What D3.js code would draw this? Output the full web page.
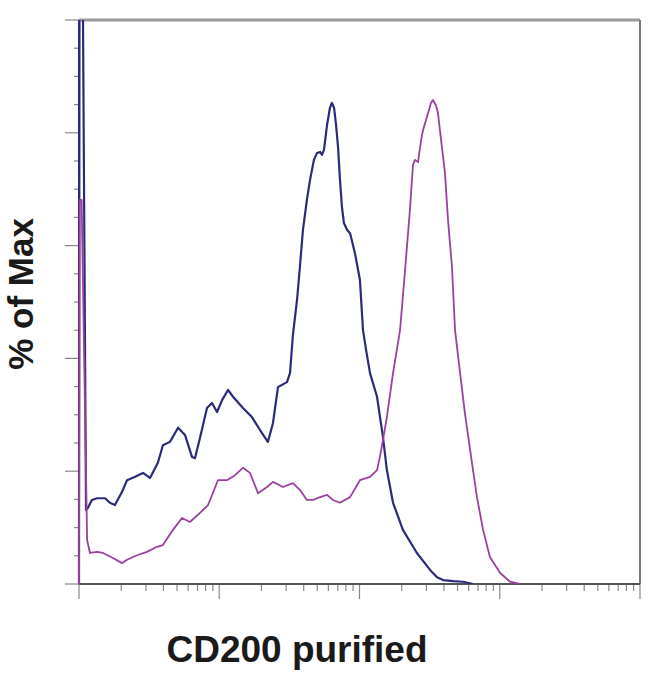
<!DOCTYPE html>
<html>
<head>
<meta charset="utf-8">
<script src="https://cdn.jsdelivr.net/npm/d3@7"></script>
<style>
  body { margin: 0; background: #fff; }
  text { font-family: "Liberation Sans", Arial, sans-serif; }
</style>
</head>
<body>
<div id="chart"></div>
<script>
// histogram bins (256 channels over 4 log decades) and % of max
var blueChannel = [0, 0.3, 1.2, 3.2, 4.1, 5.9, 8.2, 11.9, 14.1, 16.4, 19.6, 21.9, 25.6, 29.2, 32.4, 36.0, 38.3, 41.5,
    45.2, 48.4, 51.6, 52.9, 55.2, 58.4, 60.7, 63.0, 65.3, 68.0, 70.3, 74.8, 78.9, 82.6, 86.2, 88.5, 90.8, 94.9,
    96.3, 97.6, 99.5, 100.8, 102.2, 104.0, 105.4, 107.2, 108.6, 110.0, 110.9, 111.8, 113.2, 114.5, 115.4, 116.4,
    117.3, 118.2, 119.1, 120.0, 120.9, 122.3, 123.7, 125.9, 128.2, 129.6, 131.0, 132.8, 136.0, 138.7, 140.5,
    143.3, 147.8, 154.2, 160.2, 163.4, 166.1, 170.7, 175.2, 179.8]
var bluePct = [0, 140, 140, 13.1, 13.5, 14.9, 15.2, 15.2, 14.4, 14.0, 16.3, 18.4, 19.0, 19.7, 18.8, 21.5, 24.6, 25.2,
    27.7, 26.4, 22.5, 22.3, 25.9, 31.2, 32.1, 30.5, 32.6, 34.4, 33.2, 31.2, 29.6, 27.3, 25.2, 28.5, 34.9, 35.8,
    37.4, 44.1, 50.4, 56.2, 62.8, 68.1, 71.6, 75.2, 76.4, 76.6, 76.1, 77.0, 81.4, 84.4, 85.3, 84.4,
    81.4, 77.5, 71.6, 66.8, 64.0, 62.8, 62.2, 58.7, 53.9, 45.0, 41.5, 37.4, 33.2, 26.1, 20.2,
    14.4, 9.6, 5.5, 2.5, 1.2, 0.7, 0.5, 0.4, 0]

var purpleChannel = [0, 0.3, 1.2, 3.7, 5.0, 8.2, 11.0, 15.5, 19.6, 21.9, 26.5, 31.0, 35.6, 38.3, 42.9, 47.0, 50.6,
    55.2, 58.9, 63.4, 67.5, 71.2, 74.8, 78.0, 81.7, 85.8, 88.5, 93.1, 97.6, 100.8, 104.0, 106.8, 110.0, 113.2,
    115.9, 119.1, 123.7, 128.2, 132.8, 136.0, 137.3, 138.7, 140.5, 143.3, 146.5, 148.8, 151.0, 152.4, 153.3,
    154.7, 156.1, 157.0, 159.3, 160.6, 161.5, 162.9, 163.8, 165.6, 167.0, 168.4, 170.2, 171.6, 173.9, 176.1,
    179.3, 181.6, 184.4, 187.5, 192.1, 196.7, 201.2]
var purplePct = [0, 68.1, 68.1, 7.8, 5.5, 5.7, 5.5, 4.6, 3.7, 4.3, 5.1, 5.7, 6.6, 6.9, 9.6, 11.7, 11.0,
    12.6, 14.0, 18.4, 18.4, 19.3, 20.6, 19.7, 16.1, 17.2, 18.1, 17.2, 17.9, 16.7, 14.9, 14.9, 15.4, 15.8,
    14.9, 14.4, 15.4, 18.4, 19.0, 20.2, 22.5, 25.5, 29.6, 37.4, 45.0, 55.7, 66.3, 74.3, 75.2,
    74.8, 78.7, 80.5, 83.5, 85.3, 85.8, 84.9, 83.5, 77.5, 72.9, 64.5, 56.2, 45.0, 37.4, 30.3,
    21.5, 15.4, 9.6, 4.8, 2.0, 0.4, 0]

var xTitle = "CD200 purified"
var yTitle = "% of Max"

var W = 650, H = 684
var margin = { top: 20, right: 10, bottom: 100, left: 79 }
var width = 640 - margin.left, height = 584 - margin.top

var svg = d3.select("#chart").append("svg")
    .attr("width", W).attr("height", H)

var g = svg.append("g")
    .attr("transform", "translate(" + margin.left + "," + margin.top + ")")

var x = d3.scaleLinear().domain([0, 256]).range([0, width])
var xLog = d3.scaleLog().domain([10, 100000]).range([0, width])
var y = d3.scaleLinear().domain([0, 100]).range([height, 0])

g.append("clipPath").attr("id", "clip")
    .append("rect").attr("x", -3).attr("y", 0).attr("width", width + 3).attr("height", height)

// y ticks: minor every 5, major every 20
var yMinor = d3.range(0, 101, 5)
g.append("g").selectAll("line").data(yMinor).enter().append("line")
    .attr("x1", d => d % 20 == 0 ? -14 : -5).attr("x2", 0)
    .attr("y1", d => y(d)).attr("y2", d => y(d))
    .style("stroke", "#888").style("stroke-width", 1.2)

// x log ticks
var xTicks = xLog.ticks()
g.append("g").selectAll("line").data(xTicks).enter().append("line")
    .attr("x1", d => xLog(d)).attr("x2", d => xLog(d))
    .attr("y1", height)
    .attr("y2", d => Math.abs(Math.log10(d) % 1) < 1e-6 ? height + 15 : height + 7)
    .style("stroke", "#888").style("stroke-width", 1.2)

// frame
g.append("line").attr("x1", 0).attr("x2", width).attr("y1", 0).attr("y2", 0)
    .style("stroke", "#9a9a9a").style("stroke-width", 3)
g.append("line").attr("x1", width).attr("x2", width).attr("y1", 0).attr("y2", height)
    .style("stroke", "#7a7a7a").style("stroke-width", 2)
g.append("line").attr("x1", 0).attr("x2", width).attr("y1", height).attr("y2", height)
    .style("stroke", "#555").style("stroke-width", 2)
g.append("line").attr("x1", 0).attr("x2", 0).attr("y1", 0).attr("y2", height)
    .style("stroke", "#2b2b7c").style("stroke-width", 2)

var line = d3.line()
    .x(d => x(d[0]))
    .y(d => y(d[1]))

var blue = d3.zip(blueChannel, bluePct)
var purple = d3.zip(purpleChannel, purplePct)

var curves = g.append("g").attr("clip-path", "url(#clip)")
curves.append("path").datum(blue)
    .attr("d", line)
    .style("fill", "none").style("stroke", "#2b2b7c").style("stroke-width", 2.2)
    .style("stroke-linejoin", "round")
curves.append("path").datum(purple)
    .attr("d", line)
    .style("fill", "none").style("stroke", "#9c3f9e").style("stroke-width", 1.8)
    .style("stroke-linejoin", "round")

// axis titles
svg.append("text")
    .attr("x", 297).attr("y", 662)
    .attr("text-anchor", "middle")
    .style("font-size", "37px").style("font-weight", "bold").style("fill", "#1a1a1a")
    .text(xTitle)

svg.append("text")
    .attr("transform", "translate(33,294) rotate(-90)")
    .attr("text-anchor", "middle")
    .style("font-size", "35px").style("font-weight", "bold").style("fill", "#1a1a1a")
    .text(yTitle)
</script>
</body>
</html>
